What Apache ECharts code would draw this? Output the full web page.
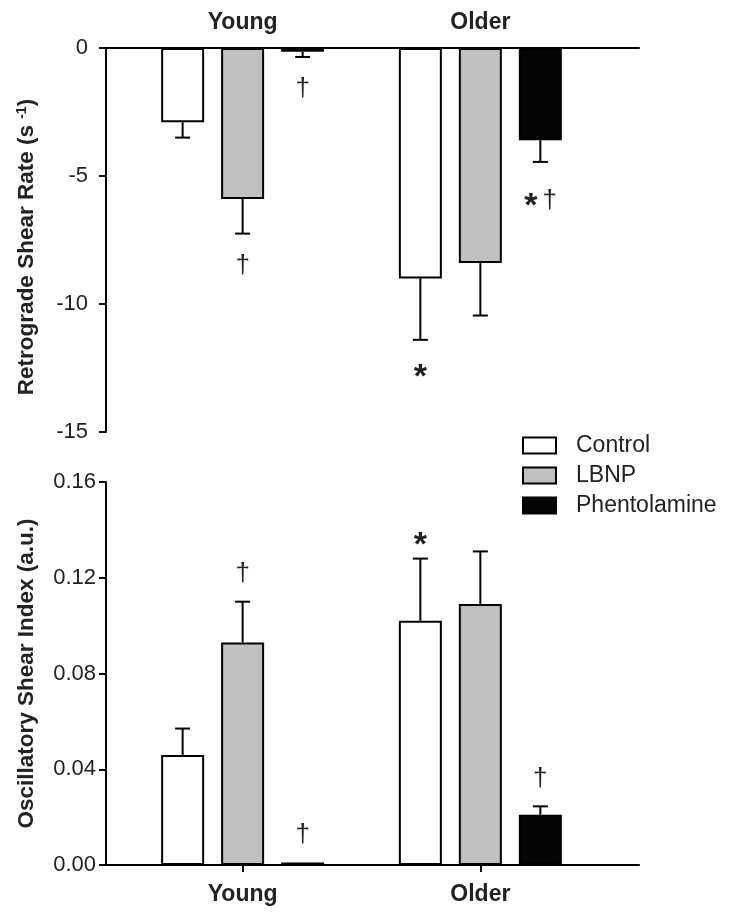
<!DOCTYPE html>
<html><head><meta charset="utf-8">
<script src="https://cdn.jsdelivr.net/npm/echarts@6/dist/echarts.min.js"></script>
<style>html,body{margin:0;padding:0;background:#fff}#c{width:729px;height:921px}</style>
</head><body><div id="c"></div>
<script>
// ---- data ----
const groups = ['Young', 'Older'];
const seriesNames = ['Control', 'LBNP', 'Phentolamine'];
// Retrograde shear rate (s^-1): mean and SE
const rsrControl = [-2.9, -9.0];
const rsrControlSE = [0.6, 2.4];
const rsrLBNP = [-5.9, -8.4];
const rsrLBNPSE = [1.35, 2.05];
const rsrPhen = [-0.15, -3.6];
const rsrPhenSE = [0.2, 0.85];
const rsrMarks = [['', '*'], ['†', ''], ['†', '*†']];
// Oscillatory shear index (a.u.): mean and SE
const osiControl = [0.046, 0.102];
const osiControlSE = [0.011, 0.026];
const osiLBNP = [0.093, 0.109];
const osiLBNPSE = [0.017, 0.022];
const osiPhen = [0.001, 0.021];
const osiPhenSE = [0, 0.0035];
const osiMarks = [['', '*'], ['†', ''], ['†', '†']];
const rsrTickLabels = ['0', '-5', '-10', '-15'];
const osiTickLabels = ['0.00', '0.04', '0.08', '0.12', '0.16'];

// ---- styles ----
const FONT = '"Liberation Sans", Arial, sans-serif';
const TXT = '#222';
const BAR_W = 43;
const STEP = 60;
const fills = ['#ffffff', '#c0c0c0', '#050505'];

const rsrMeans = [rsrControl, rsrLBNP, rsrPhen];
const rsrSEs = [rsrControlSE, rsrLBNPSE, rsrPhenSE];
const osiMeans = [osiControl, osiLBNP, osiPhen];
const osiSEs = [osiControlSE, osiLBNPSE, osiPhenSE];

const chart = echarts.init(document.getElementById('c'));

function xAxisDef(gridIndex, top) {
  return {
    type: 'value', gridIndex: gridIndex, min: 0.4253, max: 2.6674,
    position: top ? 'top' : 'bottom',
    splitLine: { show: false },
    axisLine: { show: true, onZero: false, lineStyle: { color: '#000', width: 2 } },
    axisTick: { show: !top, customValues: [1, 2], length: 7, lineStyle: { color: '#000', width: 2 } },
    axisLabel: {
      customValues: [1, 2],
      formatter: v => groups[Math.round(v) - 1] || '',
      fontFamily: FONT, fontSize: 23, fontWeight: 'bold', color: TXT,
      margin: top ? 14 : 18
    }
  };
}

function yAxisDef(gridIndex, min, max, interval, labels, name, rich, margin, pad) {
  return {
    type: 'value', gridIndex: gridIndex, min: min, max: max, interval: interval,
    splitLine: { show: false },
    axisLine: { show: true, onZero: false, lineStyle: { color: '#000', width: 2 } },
    axisTick: { show: true, length: 7, lineStyle: { color: '#000', width: 2 } },
    axisLabel: {
      fontFamily: FONT, fontSize: 22, color: TXT, margin: margin,
      formatter: (v) => {
        const ticks = labels.map(Number);
        let best = 0, d = Infinity;
        ticks.forEach((t, i) => { if (Math.abs(t - v) < d) { d = Math.abs(t - v); best = i; } });
        return labels[best];
      }
    },
    name: name, nameLocation: 'middle', nameRotate: 90, nameGap: 68,
    nameTextStyle: { fontFamily: FONT, fontSize: 22.5, fontWeight: 'bold', color: TXT, rich: rich, padding: pad }
  };
}

function errorSeries(gridIndex, means, ses, marks) {
  const data = [];
  const markList = [];
  means.forEach((arr, s) => arr.forEach((m, g) => {
    data.push([g + 1, s, m, ses[s][g]]);
    markList.push(marks[s][g]);
  }));
  return {
    type: 'custom', xAxisIndex: gridIndex, yAxisIndex: gridIndex, silent: true, z: 5,
    data: data,
    renderItem: function (params, api) {
      const x = api.value(0), s = api.value(1), m = api.value(2), se = api.value(3);
      const base = api.coord([x, m]);
      const dir = m < 0 ? -1 : 1;
      const end = api.coord([x, m + dir * se]);
      const cx = base[0] + (s - 1) * STEP;
      const down = m < 0;
      const children = [];
      if (se > 0) {
        children.push({ type: 'line', shape: { x1: cx, y1: base[1], x2: cx, y2: end[1] }, style: { stroke: '#000', lineWidth: 2 } });
        children.push({ type: 'line', shape: { x1: cx - 7.5, y1: end[1], x2: cx + 7.5, y2: end[1] }, style: { stroke: '#000', lineWidth: 2 } });
      }
      const mk = (markList[params.dataIndex] || '').split('');
      const n = mk.length;
      mk.forEach((ch, k) => {
        const ox = (k - (n - 1) / 2) * 19;
        const isStar = ch === '*';
        let cy;
        if (isStar) cy = down ? end[1] + (n > 1 ? 36 : 29) + 9 : end[1] - 22 + 9;
        else cy = down ? end[1] + (n > 1 ? 39 : 32) : end[1] - 28;
        children.push({
          type: 'text', x: cx + ox, y: cy,
          style: {
            text: ch, align: 'center', verticalAlign: 'middle', fill: TXT,
            fontFamily: FONT, fontSize: isStar ? 34 : 26, fontWeight: isStar ? 'bold' : 'normal'
          }
        });
      });
      return { type: 'group', children: children };
    }
  };
}

function barSeries(gridIndex, means) {
  return means.map((arr, s) => ({
    name: seriesNames[s], type: 'bar', xAxisIndex: gridIndex, yAxisIndex: gridIndex,
    barWidth: BAR_W, barGap: ((STEP - BAR_W) / BAR_W * 100).toFixed(1) + '%',
    data: arr.map((v, g) => [g + 1, v]),
    itemStyle: { color: fills[s], borderColor: '#000', borderWidth: 2 },
    emphasis: { disabled: true }
  }));
}

const option = {
  animation: false,
  backgroundColor: '#fff',
  grid: [
    { left: 106, right: 90, top: 48, height: 384 },
    { left: 106, right: 90, top: 482, height: 383 }
  ],
  legend: {
    orient: 'vertical', left: 522, top: 434, padding: 0,
    itemWidth: 33, itemHeight: 16, itemGap: 7, icon: 'rect',
    data: seriesNames, selectedMode: false,
    textStyle: { fontFamily: FONT, fontSize: 23, color: TXT, padding: [0, 0, 0, 15] }
  },
  xAxis: [xAxisDef(0, true), xAxisDef(1, false)],
  yAxis: [
    yAxisDef(0, -15, 0, 5, rsrTickLabels, '{n|Retrograde Shear Rate (s }{sup|-1}{n|)}', {
      n: { fontFamily: FONT, fontSize: 22.5, fontWeight: 'bold', color: TXT },
      sup: { fontFamily: FONT, fontSize: 14, fontWeight: 'bold', color: TXT, verticalAlign: 'top', padding: [0, 0, 8, 0] }
    }, 18, [0, 14, 0, 0]),
    yAxisDef(1, 0, 0.16, 0.04, osiTickLabels, 'Oscillatory Shear Index (a.u.)', null, 10, 0)
  ],
  series: [].concat(
    barSeries(0, rsrMeans),
    [errorSeries(0, rsrMeans, rsrSEs, rsrMarks)],
    barSeries(1, osiMeans),
    [errorSeries(1, osiMeans, osiSEs, osiMarks)]
  )
};
chart.setOption(option);
</script>
</body></html>
